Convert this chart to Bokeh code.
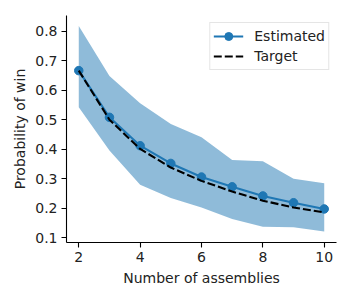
from bokeh.plotting import figure
from bokeh.models import ColumnDataSource, FixedTicker, Legend, LegendItem, Range1d
from bokeh.embed import file_html
from bokeh.resources import INLINE

n_assemblies = [2, 3, 4, 5, 6, 7, 8, 9, 10]
estimated = [0.666, 0.508, 0.412, 0.352, 0.306, 0.273, 0.242, 0.219, 0.198]
target = [0.666, 0.500, 0.401, 0.338, 0.293, 0.257, 0.226, 0.203, 0.186]
upper = [0.817, 0.648, 0.556, 0.485, 0.441, 0.364, 0.359, 0.300, 0.285]
lower = [0.542, 0.396, 0.280, 0.235, 0.203, 0.164, 0.138, 0.136, 0.122]
x_ticks = [2, 4, 6, 8, 10]
y_ticks = [0.1, 0.2, 0.3, 0.4, 0.5, 0.6, 0.7, 0.8]

src = ColumnDataSource(dict(x=n_assemblies, est=estimated, tgt=target, up=upper, lo=lower))

FONT = "DejaVu Sans"
C0 = "#1f77b4"

p = figure(width=350, height=300, output_backend="svg", toolbar_location=None,
           x_range=Range1d(1.6, 10.4), y_range=Range1d(0.0845, 0.8525),
           min_border_left=66, min_border_right=14, min_border_top=15, min_border_bottom=58)
p.outline_line_color = None
p.grid.visible = False
p.background_fill_color = "white"

p.varea(x="x", y1="lo", y2="up", source=src, fill_color=C0, fill_alpha=0.5)
l1 = p.line(x="x", y="est", source=src, line_color=C0, line_width=2.1)
c1 = p.scatter(x="x", y="est", source=src, size=8.5, fill_color=C0, line_color=C0)
l2 = p.line(x="x", y="tgt", source=src, line_color="black", line_width=2.1, line_dash="8 3")

for ax in (p.xaxis[0], p.yaxis[0]):
    ax.axis_line_color = "black"
    ax.axis_line_width = 1.1
    ax.major_tick_in = 0
    ax.major_tick_out = 5
    ax.major_tick_line_width = 1.1
    ax.minor_tick_line_color = None
    ax.major_label_text_font = FONT
    ax.major_label_text_font_size = "14px"
    ax.major_label_text_color = "#222222"
    ax.axis_label_text_font = FONT
    ax.axis_label_text_font_size = "14px"
    ax.axis_label_text_font_style = "normal"
    ax.axis_label_text_color = "#222222"
    ax.major_label_standoff = 4

p.xaxis[0].ticker = FixedTicker(ticks=x_ticks)
p.yaxis[0].ticker = FixedTicker(ticks=y_ticks)
p.xaxis[0].axis_label = "Number of assemblies"
p.yaxis[0].axis_label = "Probability of win"
p.xaxis[0].axis_label_standoff = 5
p.yaxis[0].axis_label_standoff = 4

legend = Legend(items=[LegendItem(label="Estimated", renderers=[l1, c1]),
                       LegendItem(label="Target", renderers=[l2])],
                location="top_right")
legend.label_text_font = FONT
legend.label_text_font_size = "14px"
legend.label_text_color = "#222222"
legend.border_line_color = "#cccccc"
legend.border_line_width = 1
legend.background_fill_alpha = 0.8
legend.margin = 7
legend.padding = 3
legend.spacing = 0
legend.label_standoff = 11
legend.glyph_width = 30
legend.label_height = 20
legend.glyph_height = 20
p.add_layout(legend, "center")

open("out.html", "w").write(file_html(p, INLINE))
